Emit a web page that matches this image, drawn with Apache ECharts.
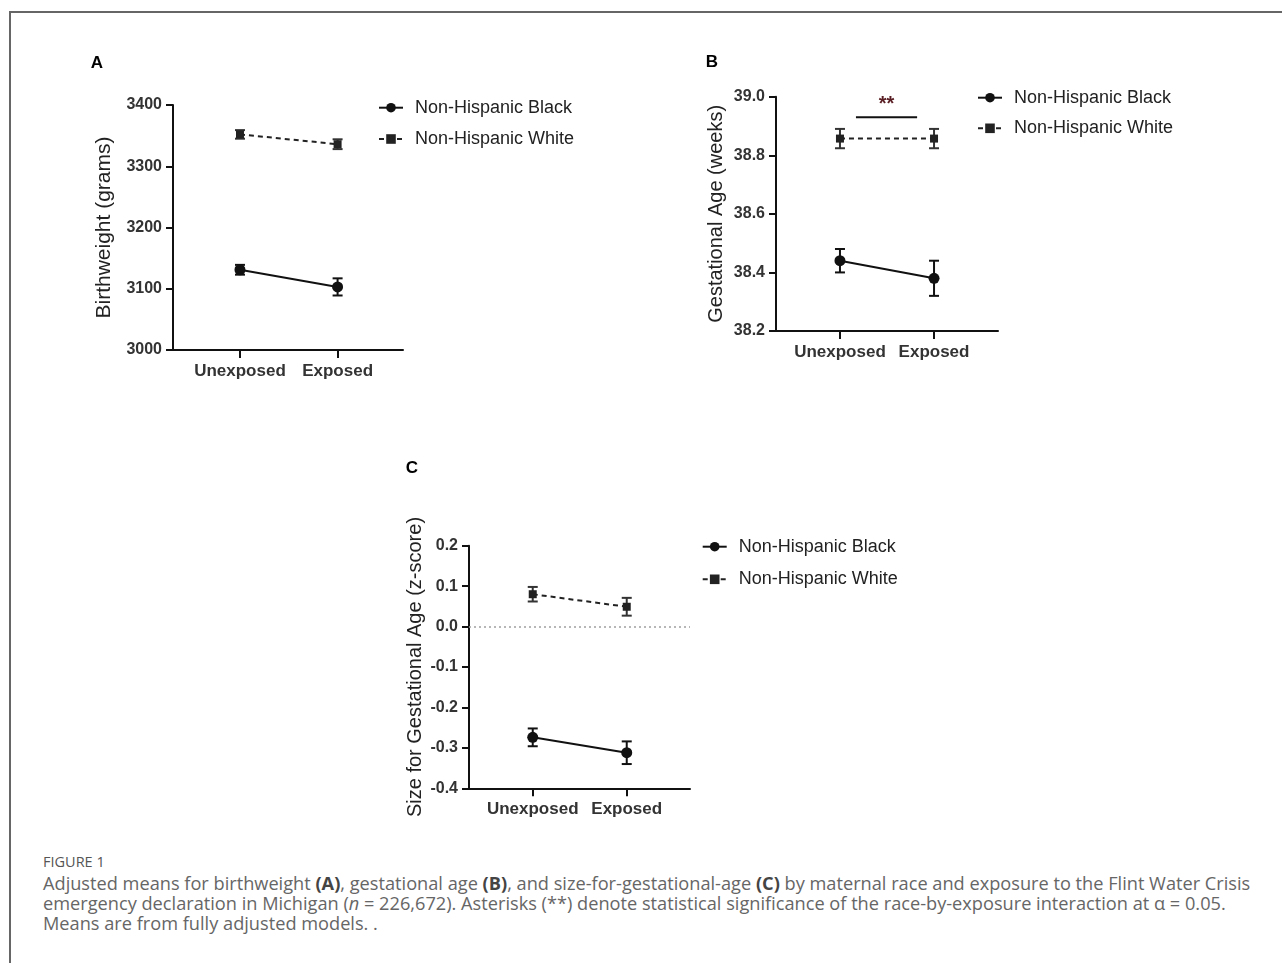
<!DOCTYPE html>
<html>
<head>
<meta charset="utf-8">
<script src="https://cdn.jsdelivr.net/npm/echarts@6/dist/echarts.min.js"></script>
<style>
  html, body { margin: 0; padding: 0; background: #fff; }
  #wrap { position: relative; width: 1282px; height: 963px; overflow: hidden; }
  #frameTop { position: absolute; left: 10px; top: 11px; width: 1272px; height: 0; border-top: 2px solid #666; }
  #frameLeft { position: absolute; left: 9px; top: 11px; width: 0; height: 952px; border-left: 2px solid #666; }
  #chart { position: absolute; left: 0; top: 0; width: 1282px; height: 840px; }
  #figlabel { position: absolute; left: 43px; top: 852px; font-family: "Open Sans", sans-serif; font-size: 14.5px; color: #555; white-space: nowrap; }
  #caption { position: absolute; left: 43px; top: 873px; font-family: "Open Sans", sans-serif; font-size: 18.2px; line-height: 20px; color: #666; white-space: nowrap; }
  #caption b { color: #444; }
</style>
</head>
<body>
<div id="wrap">
  <div id="frameTop"></div>
  <div id="frameLeft"></div>
  <div id="chart"></div>
  <div id="figlabel">FIGURE 1</div>
  <div id="caption">Adjusted means for birthweight <b>(A)</b>, gestational age <b>(B)</b>, and size-for-gestational-age <b>(C)</b> by maternal race and exposure to the Flint Water Crisis<br>emergency declaration in Michigan (<i>n</i> = 226,672). Asterisks (**) denote statistical significance of the race-by-exposure interaction at &alpha; = 0.05.<br>Means are from fully adjusted models. .</div>
</div>
<script>
// ---------- data ----------
const categories = ['Unexposed', 'Exposed'];
const seriesNames = ['Non-Hispanic Black', 'Non-Hispanic White'];
const panelLetters = ['A', 'B', 'C'];
const yTitles = ['Birthweight (grams)', 'Gestational Age (weeks)', 'Size for Gestational Age (z-score)'];

// Panel A: birthweight (grams)
const aBlackMean = [3131, 3103];
const aBlackErr  = [8, 14];
const aWhiteMean = [3352, 3336];
const aWhiteErr  = [7, 8];
const aYAxis = [3000, 3400, 100];   // min, max, step

// Panel B: gestational age (weeks)
const bBlackMean = [38.44, 38.38];
const bBlackErr  = [0.04, 0.06];
const bWhiteMean = [38.857, 38.857];
const bWhiteErr  = [0.033, 0.033];
const bYAxis = [38.2, 39.0, 0.2];
const bSigBar = [0.17, 0.82, 38.93]; // x from, x to, y level
const bSigLabel = '**';

// Panel C: size for gestational age (z-score)
const cBlackMean = [-0.274, -0.312];
const cBlackErr  = [0.022, 0.028];
const cWhiteMean = [0.08, 0.049];
const cWhiteErr  = [0.018, 0.022];
const cYAxis = [-0.4, 0.2, 0.1];
const cRefLine = 0;

// ---------- chart ----------
const FONT = '"Liberation Sans", Arial, sans-serif';
const chart = echarts.init(document.getElementById('chart'), null, { renderer: 'canvas' });

const grids = [
  { left: 173, top: 105, width: 230, height: 245 },
  { left: 776, top: 96.7, width: 222, height: 234.3 },
  { left: 469, top: 545.7, width: 221, height: 242.6 }
];
const xRanges = [[-0.686, 1.67], [-0.68, 1.68], [-0.678, 1.673]];
const yRanges = [aYAxis, bYAxis, cYAxis];
const yDecimals = [0, 1, 1];
const yNameGaps = [58, 50, 44];
const yNameSizes = [21, 20, 20];

const xAxes = grids.map((g, i) => ({
  type: 'value', gridIndex: i, min: xRanges[i][0], max: xRanges[i][1],
  splitLine: { show: false },
  axisLine: { show: true, onZero: false, lineStyle: { color: '#111', width: 2 } },
  axisTick: { show: true, length: 8, lineStyle: { color: '#111', width: 2 }, customValues: [0, 1] },
  axisLabel: {
    customValues: [0, 1], margin: 13,
    formatter: v => categories[Math.round(v)] || '',
    fontFamily: FONT, fontSize: 17, fontWeight: 'bold', color: '#333'
  }
}));

const yAxes = grids.map((g, i) => ({
  type: 'value', gridIndex: i, min: yRanges[i][0], max: yRanges[i][1], interval: yRanges[i][2],
  splitLine: { show: false },
  axisLine: { show: true, onZero: false, lineStyle: { color: '#111', width: 2 } },
  axisTick: { show: true, length: 7, lineStyle: { color: '#111', width: 2 } },
  axisLabel: {
    margin: 11, formatter: v => Number(v).toFixed(yDecimals[i]),
    fontFamily: FONT, fontSize: 16, fontWeight: 'bold', color: '#333'
  },
  name: yTitles[i], nameLocation: 'middle', nameGap: yNameGaps[i],
  nameTextStyle: { fontFamily: FONT, fontSize: yNameSizes[i], color: '#222' }
}));

function errRenderer(color) {
  return function (params, api) {
    const x = api.value(0), m = api.value(1), e = api.value(2);
    const hi = api.coord([x, m + e]);
    const lo = api.coord([x, m - e]);
    const w = 5;
    const st = { stroke: color, lineWidth: 2 };
    return {
      type: 'group', children: [
        { type: 'line', shape: { x1: hi[0], y1: hi[1], x2: lo[0], y2: lo[1] }, style: st },
        { type: 'line', shape: { x1: hi[0] - w, y1: hi[1], x2: hi[0] + w, y2: hi[1] }, style: st },
        { type: 'line', shape: { x1: lo[0] - w, y1: lo[1], x2: lo[0] + w, y2: lo[1] }, style: st }
      ]
    };
  };
}

function pts(means) { return means.map((v, k) => [k, v]); }
function errPts(means, errs) { return means.map((v, k) => [k, v, errs[k]]); }

const panels = [
  [aBlackMean, aBlackErr, aWhiteMean, aWhiteErr],
  [bBlackMean, bBlackErr, bWhiteMean, bWhiteErr],
  [cBlackMean, cBlackErr, cWhiteMean, cWhiteErr]
];

const series = [];
panels.forEach((p, i) => {
  series.push({
    type: 'custom', xAxisIndex: i, yAxisIndex: i, z: 2, silent: true,
    renderItem: errRenderer('#111'), data: errPts(p[0], p[1]), encode: { x: 0, y: 1 }
  });
  series.push({
    type: 'custom', xAxisIndex: i, yAxisIndex: i, z: 2, silent: true,
    renderItem: errRenderer('#333'), data: errPts(p[2], p[3]), encode: { x: 0, y: 1 }
  });
  const black = {
    name: seriesNames[0], type: 'line', xAxisIndex: i, yAxisIndex: i, z: 3,
    data: pts(p[0]), symbol: 'circle', symbolSize: 11,
    itemStyle: { color: '#111' }, lineStyle: { color: '#111', width: 2 }
  };
  if (i === 2) {
    black.markLine = {
      silent: true, symbol: 'none', label: { show: false },
      lineStyle: { color: '#a0a0a0', width: 1.5, type: [2, 3] },
      data: [{ yAxis: cRefLine }]
    };
  }
  series.push(black);
  series.push({
    name: seriesNames[1], type: 'line', xAxisIndex: i, yAxisIndex: i, z: 3,
    data: pts(p[2]), symbol: 'rect', symbolSize: 8,
    itemStyle: { color: '#222' }, lineStyle: { color: '#222', width: 2, type: [5, 4] }
  });
});

// significance bar in panel B
series.push({
  type: 'custom', xAxisIndex: 1, yAxisIndex: 1, z: 4, silent: true,
  data: [bSigBar], encode: { x: [0, 1], y: 2 },
  renderItem: function (params, api) {
    const a = api.coord([api.value(0), api.value(2)]);
    const b = api.coord([api.value(1), api.value(2)]);
    return {
      type: 'group', children: [
        { type: 'line', shape: { x1: a[0], y1: a[1], x2: b[0], y2: b[1] }, style: { stroke: '#111', lineWidth: 2 } },
        { type: 'text', x: (a[0] + b[0]) / 2, y: a[1] - 3,
          style: { text: bSigLabel, fill: '#5a1f24', font: 'bold 20px ' + FONT, textAlign: 'center', textVerticalAlign: 'bottom' } }
      ]
    };
  }
});

const legendPos = [
  { left: 378, top: 97.7, itemGap: 11.3 },
  { left: 977, top: 87.7, itemGap: 10.6 },
  { left: 701.7, top: 536.7, itemGap: 12.6 }
];
const legends = legendPos.map(l => ({
  orient: 'vertical', left: l.left, top: l.top, itemGap: l.itemGap, padding: 0,
  itemWidth: 24, itemHeight: 12, selectedMode: false,
  data: seriesNames,
  textStyle: { fontFamily: FONT, fontSize: 18, color: '#222', lineHeight: 20, padding: [0, 0, 0, 7] }
}));

const letterPos = [[97, 63], [712, 62], [412, 468]];
const graphics = letterPos.map((p, i) => ({
  type: 'text', x: p[0], y: p[1],
  style: { text: panelLetters[i], font: 'bold 17px ' + FONT, fill: '#000', textAlign: 'center', textVerticalAlign: 'middle' }
}));

chart.setOption({
  animation: false,
  backgroundColor: 'transparent',
  grid: grids.map(g => Object.assign({ containLabel: false }, g)),
  xAxis: xAxes,
  yAxis: yAxes,
  legend: legends,
  graphic: graphics,
  series: series
});
</script>
</body>
</html>
